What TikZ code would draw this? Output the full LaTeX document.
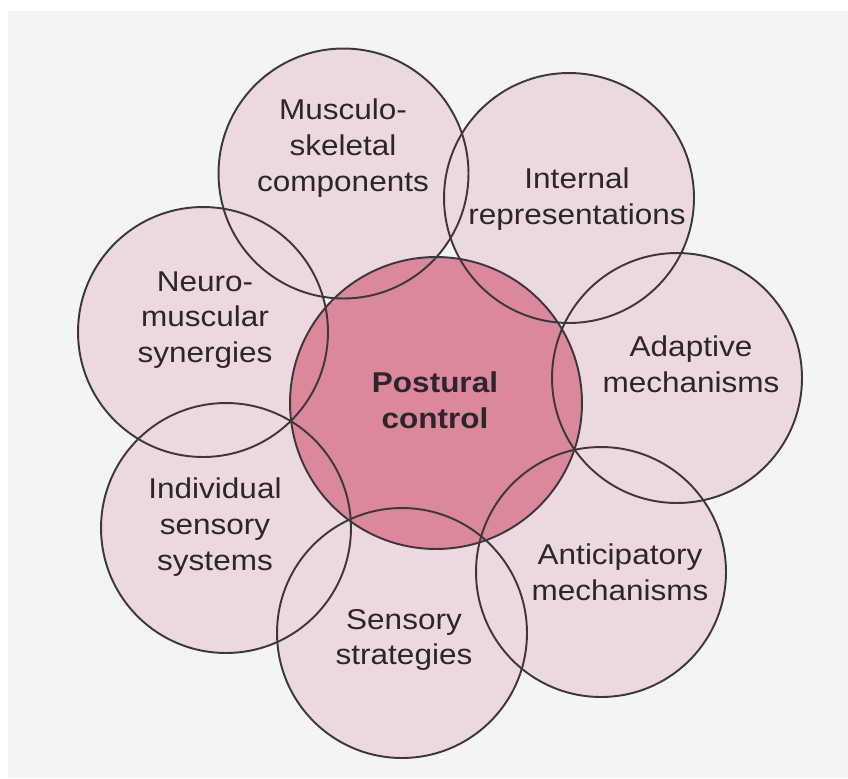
\documentclass[tikz,border=0pt]{standalone}
\usepackage{fontspec}
\setmainfont[FakeStretch=1.1]{Liberation Sans}
\definecolor{petalpink}{RGB}{236,216,223}
\definecolor{hubpink}{RGB}{219,136,155}
\definecolor{rimgray}{RGB}{62,55,57}
\definecolor{inkgray}{RGB}{45,38,40}
\definecolor{paper}{RGB}{243,244,244}
\tikzset{
  petal/.style={fill=petalpink},
  hub/.style={fill=hubpink},
  rim/.style={draw=rimgray,line width=1.1pt},
  lbl/.style={align=center,text=inkgray,inner sep=0pt,
    font=\fontsize{16.3}{20.4}\selectfont},
}
\begin{document}
\begin{tikzpicture}[x=0.02cm,y=-0.02cm]
  \useasboundingbox (0,0) rectangle (848,778);
  \fill[white] (0,0) rectangle (848,778);
  \fill[paper] (8,11) rectangle (848,778);
  % circle centres
  \coordinate (post) at (436,403);
  \coordinate (musc) at (343.5,173.5);
  \coordinate (intr) at (569,198);
  \coordinate (adap) at (677,378);
  \coordinate (anti) at (601,572);
  \coordinate (sens) at (402,633);
  \coordinate (indi) at (226,528);
  \coordinate (neur) at (203,332);
  % fills first
  \foreach \c in {musc,intr,adap,anti,sens,indi,neur}
    \fill[petal] (\c) circle[radius=2.5cm];
  \fill[hub] (post) circle[radius=2.92cm];
  % then all rims on top
  \foreach \c in {musc,intr,adap,anti,sens,indi,neur}
    \draw[rim] (\c) circle[radius=2.5cm];
  \draw[rim] (post) circle[radius=2.92cm];
  % labels
  \node[lbl,font=\fontsize{16.3}{20.4}\selectfont\bfseries] (postT) at (435,400) {Postural\\control};
  \node[lbl] (muscT) at (343,148) {Musculo-\\skeletal\\components};
  \node[lbl] (intrT) at (577,199) {Internal\\representations};
  \node[lbl] (adapT) at (691,364) {Adaptive\\mechanisms};
  \node[lbl] (antiT) at (620,572) {Anticipatory\\mechanisms};
  \node[lbl] (sensT) at (404,640) {Sensory\\strategies};
  \node[lbl] (indiT) at (215,527) {Individual\\sensory\\systems};
  \node[lbl] (neurT) at (205,320) {Neuro-\\muscular\\synergies};
\end{tikzpicture}
\end{document}
